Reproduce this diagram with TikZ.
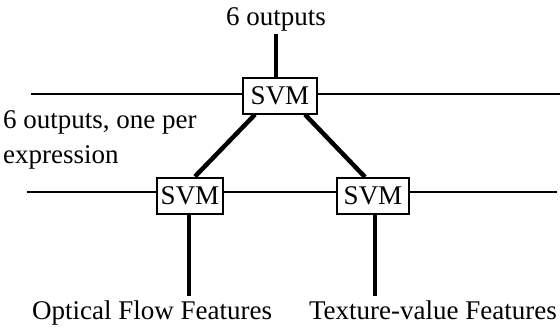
\documentclass[tikz,border=0pt]{standalone}
\usepackage{fontspec}
\setmainfont{Liberation Serif}
\begin{document}
\begin{tikzpicture}[x=1pt,y=-1pt,
  svm/.style={draw,line width=2pt,fill=white,inner sep=0pt,font=\fontsize{27}{32}\selectfont,minimum height=36pt},
  lbl/.style={font=\fontsize{27}{35}\selectfont,inner sep=0pt},
  thick line/.style={line width=4.5pt},
  thin line/.style={line width=2pt}]
\useasboundingbox (0,0) rectangle (560,333);
\coordinate (tl) at (31,94);
\coordinate (tr) at (560,94);
\coordinate (bl) at (27,192);
\coordinate (br) at (557,192);
\draw[thin line] (tl) -- (tr);
\draw[thin line] (bl) -- (br);
\node[svm,minimum width=74pt] (top) at (280,95.5) {SVM};
\node[svm,minimum width=66pt] (left) at (190,195.5) {SVM};
\node[svm,minimum width=72pt] (right) at (373,196) {SVM};
\node[lbl,anchor=base] (out) at (276,25) {6 outputs};
\node[lbl,align=left,anchor=north west] (mid) at (3,110) {6 outputs, one per\\expression};
\node[lbl,anchor=base west] (of) at (32,319) {Optical Flow Features};
\node[lbl,anchor=base east] (tv) at (557,319) {Texture-value Features};
\coordinate (outend) at (276,34);
\coordinate (ofend) at (189,296);
\coordinate (tvend) at (375,296);
\draw[thick line] (top.north -| outend) -- (outend);
\draw[thick line] ([xshift=-25pt]top.south) -- ([xshift=5pt]left.north);
\draw[thick line] ([xshift=25pt]top.south) -- ([xshift=-8pt]right.north);
\draw[thick line] (left.south -| ofend) -- (ofend);
\draw[thick line] (right.south -| tvend) -- (tvend);
\end{tikzpicture}
\end{document}
